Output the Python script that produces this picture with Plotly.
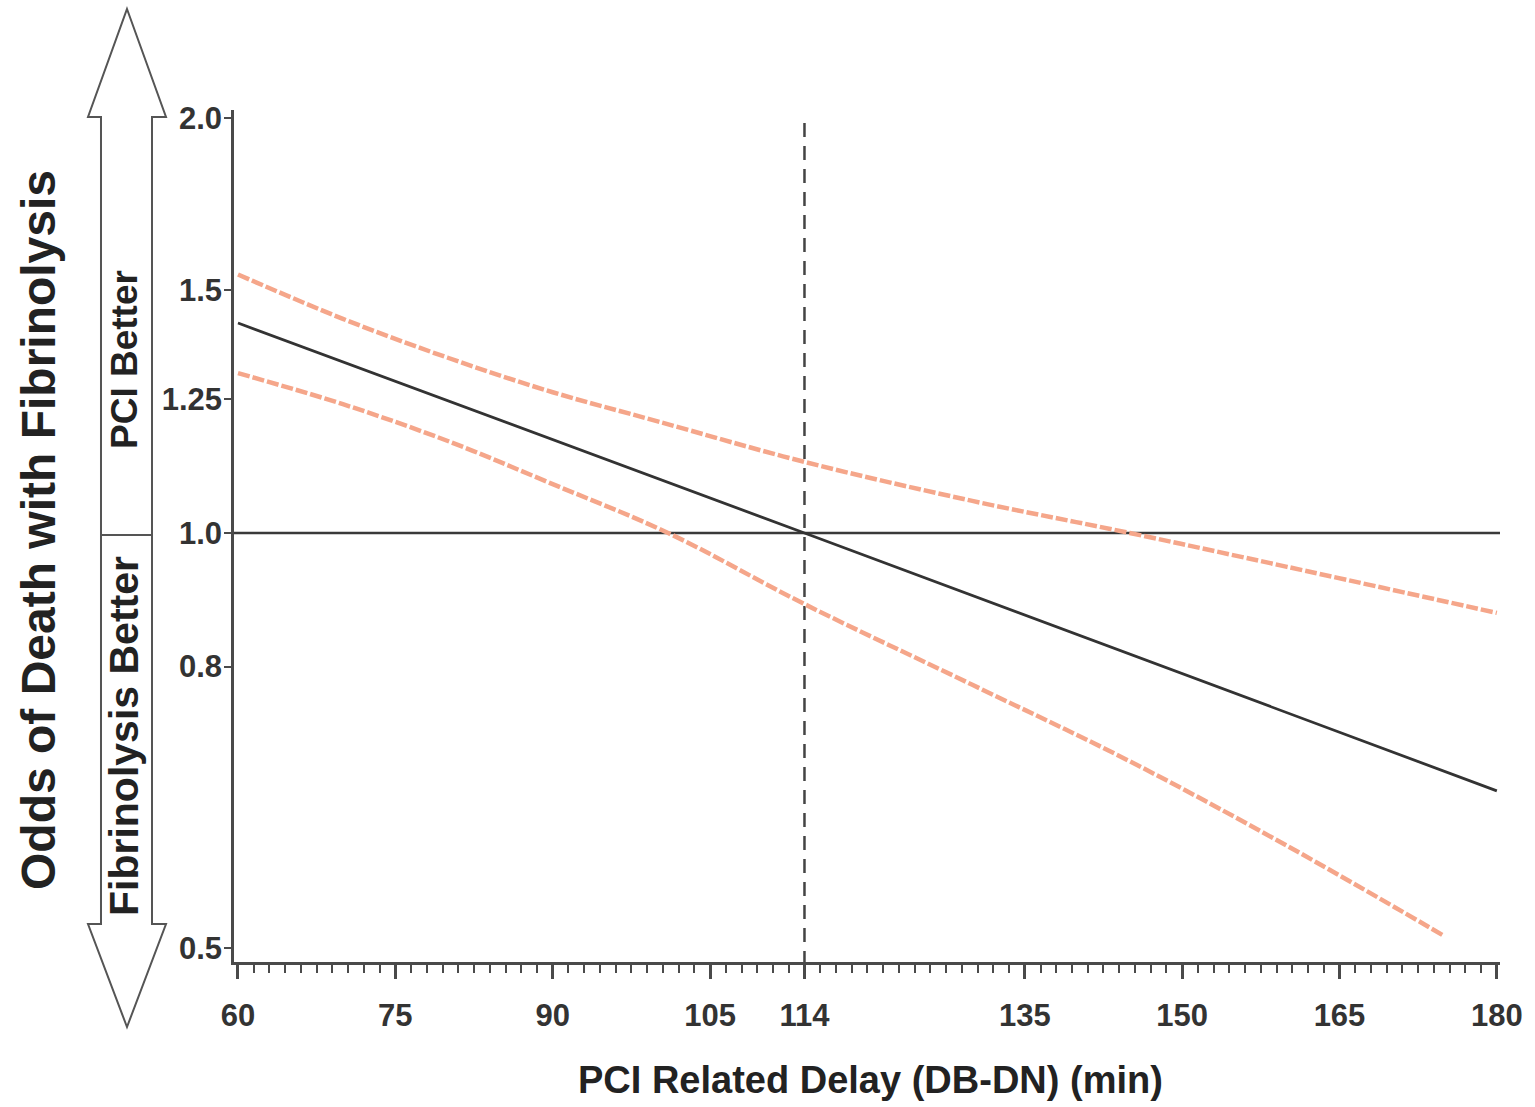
import math
import plotly.graph_objects as go

# ---------------- data ----------------
delay_point = [60, 114, 180]
odds_point = [1.42, 1.0, 0.65]

delay_upper = [60, 70, 80, 90, 100, 114, 130, 145, 160, 180]
odds_upper = [1.54, 1.43, 1.34, 1.265, 1.205, 1.126, 1.055, 1.0, 0.945, 0.875]

delay_lower = [60, 70, 80, 90, 101, 114, 130, 145, 160, 175]
odds_lower = [1.306, 1.24, 1.166, 1.085, 1.0, 0.888, 0.776, 0.683, 0.593, 0.51]

x_tickvals = [60, 75, 90, 105, 114, 120, 135, 150, 165, 180]
x_ticktext = ["60", "75", "90", "105", "114", "", "135", "150", "165", "180"]
y_tickvals = [0.5, 0.8, 1.0, 1.25, 1.5, 2.0]
y_ticktext = ["0.5", "0.8", "1.0", "1.25", "1.5", "2.0"]

threshold_delay = 114
reference_odds = 1.0

x_title = "PCI Related Delay (DB-DN) (min)"
y_title = "Odds of Death with Fibrinolysis"
upper_label = "PCI Better"
lower_label = "Fibrinolysis Better"

# ---------------- layout geometry ----------------
W, H = 1535, 1107
L, R, T, B = 234, 1500, 110, 962   # plot area in pixels
x_range = [59.62, 180.3]
y_range = [math.log10(0.5) - 0.0102, math.log10(2.0) + 0.0058]

def px(x):
    return (x - L) / (R - L)

def py(y):
    return (B - y) / (B - T)

FONT = "Liberation Sans, Arial, Helvetica, sans-serif"
AX = "#4a4a4a"
RED = "#F5A68A"

fig = go.Figure()

# reference line at OR = 1
fig.add_trace(go.Scatter(x=x_range, y=[reference_odds, reference_odds], mode="lines",
                         line=dict(color="#3a3a3a", width=2.5), hoverinfo="skip",
                         showlegend=False))
# dashed vertical at the threshold delay
fig.add_trace(go.Scatter(x=[threshold_delay, threshold_delay], y=[0.45, 2.0], mode="lines",
                         line=dict(color="#444444", width=2.5, dash="14px,9px"),
                         hoverinfo="skip", showlegend=False))
# confidence bands
fig.add_trace(go.Scatter(x=delay_upper, y=odds_upper, mode="lines", line_shape="spline",
                         line=dict(color=RED, width=4.5, dash="12px,3px"), showlegend=False))
fig.add_trace(go.Scatter(x=delay_lower, y=odds_lower, mode="lines", line_shape="spline",
                         line=dict(color=RED, width=4.5, dash="12px,3px"), showlegend=False))
# point estimate
fig.add_trace(go.Scatter(x=delay_point, y=odds_point, mode="lines",
                         line=dict(color="#333333", width=2.8), showlegend=False))

# double-headed arrow at the left
pts = [(127, 9), (166, 117), (152, 117), (152, 924), (166, 924), (127, 1027),
       (88, 924), (101, 924), (101, 117), (88, 117)]
path = "M " + " L ".join(f"{px(a):.5f},{py(b):.5f}" for a, b in pts) + " Z"
shapes = [
    dict(type="path", xref="paper", yref="paper", path=path,
         line=dict(color="#555555", width=2), fillcolor="rgba(0,0,0,0)"),
    dict(type="line", xref="paper", yref="paper", x0=px(101), x1=px(152),
         y0=py(535), y1=py(535), line=dict(color="#555555", width=2)),
]

annotations = [
    dict(text=upper_label, xref="paper", yref="paper", x=px(124), y=py(360),
         showarrow=False, textangle=-90, xanchor="center", yanchor="middle",
         font=dict(family=FONT, size=37, color="#222222", weight="bold")),
    dict(text=lower_label, xref="paper", yref="paper", x=px(124), y=py(736),
         showarrow=False, textangle=-90, xanchor="center", yanchor="middle",
         font=dict(family=FONT, size=41, color="#222222", weight="bold")),
    dict(text=y_title, xref="paper", yref="paper", x=px(38), y=py(530),
         showarrow=False, textangle=-90, xanchor="center", yanchor="middle",
         font=dict(family=FONT, size=48, color="#222222", weight="bold")),
    dict(text=x_title, xref="paper", yref="paper", x=px(870), y=py(1080),
         showarrow=False, xanchor="center", yanchor="middle",
         font=dict(family=FONT, size=38, color="#222222", weight="bold")),
]

minor_vals = [60 + 1.5 * i for i in range(81)]

fig.update_layout(
    width=W, height=H,
    margin=dict(l=L, r=W - R, t=T, b=H - B, pad=0),
    paper_bgcolor="white", plot_bgcolor="white",
    showlegend=False,
    shapes=shapes,
    annotations=annotations,
    xaxis=dict(
        range=x_range, showgrid=False, zeroline=False,
        showline=True, linecolor=AX, linewidth=2.5,
        ticks="outside", ticklen=14, tickwidth=2.5, tickcolor=AX,
        tickmode="array", tickvals=x_tickvals, ticktext=x_ticktext,
        tickfont=dict(family=FONT, size=31, color="#333333", weight="bold"),
        ticklabelstandoff=10,
        minor=dict(ticks="outside", ticklen=8, tickwidth=1.8, tickcolor=AX,
                   tickmode="array", tickvals=minor_vals, showgrid=False),
    ),
    yaxis=dict(
        type="log", range=y_range, showgrid=False, zeroline=False,
        showline=True, linecolor=AX, linewidth=2.5,
        ticks="outside", ticklen=7, tickwidth=2, tickcolor=AX,
        tickmode="array", tickvals=y_tickvals, ticktext=y_ticktext,
        tickfont=dict(family=FONT, size=31, color="#333333", weight="bold"),
        ticklabelstandoff=-4,
    ),
)

fig.write_html("out.html", config={"displayModeBar": False},
               post_script="document.body.style.margin='0';document.body.style.overflow='hidden';")
